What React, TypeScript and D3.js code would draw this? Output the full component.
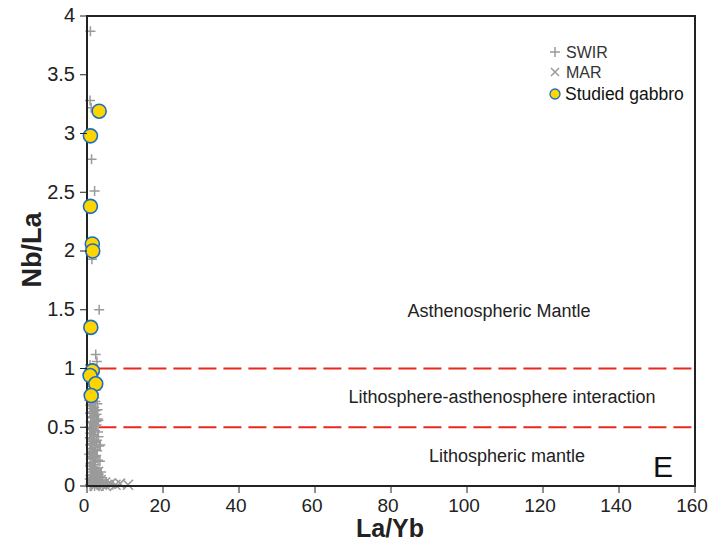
import React from 'react';
import * as d3 from 'd3';

// La/Yb vs Nb/La discrimination plot
const xTicks = [0, 20, 40, 60, 80, 100, 120, 140, 160];
const yTicks = [0, 0.5, 1, 1.5, 2, 2.5, 3, 3.5, 4];
const yTickLabels = ['0', '0.5', '1', '1.5', '2', '2.5', '3', '3.5', '4'];

const gabbroLaYb = [3.2, 0.9, 0.9, 1.4, 1.5, 1.0, 1.4, 0.8, 2.3, 1.1];
const gabbroNbLa = [3.19, 2.98, 2.38, 2.06, 2.0, 1.35, 0.98, 0.94, 0.87, 0.77];

const swirLaYb = [
  0.9, 0.8, 1.1, 1.2, 2.0, 1.1, 1.3, 3.2, 2.3, 2.6, 0.8, 1.7, 2.1, 0.7, 1.4,
  1.0, 1.8, 1.2, 2.4, 0.9, 1.6, 1.9, 0.6, 1.3, 2.7, 1.1, 1.5, 2.2, 0.8, 2.0,
  1.4, 2.8, 1.0, 1.7, 2.5, 0.7, 1.2, 2.1, 0.9, 1.8, 3.0, 1.3, 1.6, 2.4, 0.8,
  1.9, 1.1, 2.7, 1.5, 0.6, 2.2, 1.0, 2.9, 1.4, 2.0, 0.8, 1.7, 2.6, 1.2, 3.1,
  0.9, 2.3, 1.6, 0.7, 1.8, 3.3, 1.3, 2.5, 1.0, 3.8, 2.1, 1.5, 3.4, 5.5, 2.7,
  0.8, 3.6, 6.8, 1.2, 4.2,
  1.5, 2.2, 0.9, 1.9, 2.8, 1.2, 2.5, 1.6, 3.0, 1.0, 2.3, 1.4, 2.9, 1.8, 0.7,
  2.6, 1.3, 3.2, 2.0, 1.1, 2.4, 1.7, 3.4, 0.9, 2.1, 1.5, 2.8, 1.2, 3.1, 1.9,
  2.5, 1.0, 3.5, 1.6, 2.2, 4.0, 1.3, 2.9, 3.7, 1.8, 4.5, 2.4, 3.3, 5.0, 2.0,
];
const swirNbLa = [
  3.87, 3.28, 3.22, 2.78, 2.51, 2.0, 1.93, 1.5, 1.12, 1.06, 1.03, 1.0, 0.97, 0.95, 0.92,
  0.9, 0.88, 0.85, 0.82, 0.8, 0.78, 0.75, 0.73, 0.71, 0.7, 0.68, 0.66, 0.64, 0.62, 0.6,
  0.58, 0.57, 0.55, 0.53, 0.52, 0.5, 0.48, 0.47, 0.45, 0.43, 0.42, 0.4, 0.38, 0.37, 0.35,
  0.33, 0.32, 0.3, 0.28, 0.27, 0.25, 0.23, 0.22, 0.2, 0.18, 0.17, 0.15, 0.13, 0.12, 0.1,
  0.09, 0.08, 0.07, 0.06, 0.05, 0.05, 0.04, 0.04, 0.03, 0.03, 0.02, 0.02, 0.02, 0.02, 0.01,
  0.01, 0.01, 0.01, 0.0, 0.0,
  0.74, 0.72, 0.69, 0.67, 0.65, 0.63, 0.61, 0.59, 0.56, 0.54, 0.51, 0.49, 0.46, 0.44, 0.41,
  0.39, 0.36, 0.34, 0.31, 0.29, 0.26, 0.24, 0.21, 0.19, 0.16, 0.14, 0.11, 0.09, 0.08, 0.06,
  0.55, 0.45, 0.35, 0.25, 0.15, 0.07, 0.05, 0.04, 0.12, 0.03, 0.02, 0.06, 0.01, 0.03, 0.0,
];

const marLaYb = [8.7, 3.6, 4.8, 2.4, 1.5, 6.2, 2.9, 1.1, 3.9, 7.5, 2.0, 5.0, 10.8];
const marNbLa = [0.02, 0.05, 0.03, 0.09, 0.06, 0.02, 0.12, 0.03, 0.01, 0.01, 0.0, 0.0, 0.01];

const refLevels = [1, 0.5];
const regionLabels = ['Asthenospheric Mantle', 'Lithosphere-asthenosphere interaction', 'Lithospheric mantle'];
const regionX = [499, 502, 507];
const regionY = [312, 398, 457];

const W = 709;
const H = 545;
const font = 'Liberation Sans, Arial, sans-serif';

export default function App() {
  const x = d3.scaleLinear().domain([0, 160]).range([87, 695]);
  const y = d3.scaleLinear().domain([0, 4]).range([486, 16]);
  const grey = '#9a9a9a';

  const plus = (cx: number, cy: number, s: number, k: string) => (
    <path key={k} d={`M${cx - s},${cy}H${cx + s}M${cx},${cy - s}V${cy + s}`} stroke={grey} strokeWidth={1.5} fill="none" />
  );
  const cross = (cx: number, cy: number, s: number, k: string) => (
    <path key={k} d={`M${cx - s},${cy - s}L${cx + s},${cy + s}M${cx - s},${cy + s}L${cx + s},${cy - s}`} stroke={grey} strokeWidth={1.5} fill="none" />
  );

  return (
    <svg width={W} height={H} style={{ position: 'absolute', left: 0, top: 0, background: '#fff' }} fontFamily={font}>
      <rect width={W} height={H} fill="#fff" />

      {/* reference lines */}
      {refLevels.map(v => (
        <line key={v} x1={x(3)} x2={x(160)} y1={y(v)} y2={y(v)} stroke="#e8291c" strokeWidth={2} strokeDasharray="18,7" />
      ))}

      {/* region labels */}
      {regionLabels.map((t, i) => (
        <text key={t} x={regionX[i]} y={regionY[i]} fontSize={18} fill="#222" textAnchor="middle" dominantBaseline="middle">{t}</text>
      ))}
      <text x={673} y={477} fontSize={30} fill="#111" textAnchor="end">E</text>

      {/* SWIR and MAR */}
      {swirLaYb.map((v, i) => plus(x(v), y(swirNbLa[i]), 5, 's' + i))}
      {marLaYb.map((v, i) => cross(x(v), y(marNbLa[i]), 5, 'm' + i))}

      {/* frame */}
      <rect x={x(0)} y={y(4)} width={x(160) - x(0)} height={y(0) - y(4)} fill="none" stroke="#222" strokeWidth={2} />

      {/* studied gabbro */}
      {gabbroLaYb.map((v, i) => (
        <circle key={'g' + i} cx={x(v)} cy={y(gabbroNbLa[i])} r={7} fill="#ffd500" stroke="#1e6dc0" strokeWidth={1.6} />
      ))}

      {/* x axis */}
      {xTicks.map(t => (
        <g key={'x' + t}>
          <line x1={x(t)} x2={x(t)} y1={y(0)} y2={y(0) + 7} stroke="#222" strokeWidth={1} />
          <text x={x(t) - 3} y={512} fontSize={19} fill="#222" textAnchor="middle">{t}</text>
        </g>
      ))}
      {/* y axis */}
      {yTicks.map((t, i) => (
        <g key={'y' + t}>
          <line x1={x(0) - 7} x2={x(0)} y1={y(t)} y2={y(t)} stroke="#222" strokeWidth={1} />
          <text x={x(0) - 12} y={y(t) + 1} fontSize={20} fill="#222" textAnchor="end" dominantBaseline="middle">{yTickLabels[i]}</text>
        </g>
      ))}

      <text x={390} y={537} fontSize={25} fontWeight="bold" fill="#222" textAnchor="middle">La/Yb</text>
      <text transform={`translate(41,250) rotate(-90)`} fontSize={27} fontWeight="bold" fill="#222" textAnchor="middle">Nb/La</text>

      {/* legend */}
      {plus(555, 52, 5, 'lp')}
      <text x={566} y={58} fontSize={16} fill="#333">SWIR</text>
      {cross(555, 72, 4, 'lm')}
      <text x={566} y={78} fontSize={16} fill="#333">MAR</text>
      <circle cx={555} cy={94} r={5} fill="#ffd500" stroke="#1e6dc0" strokeWidth={1.3} />
      <text x={565} y={100} fontSize={17.5} fill="#111">Studied gabbro</text>
    </svg>
  );
}
